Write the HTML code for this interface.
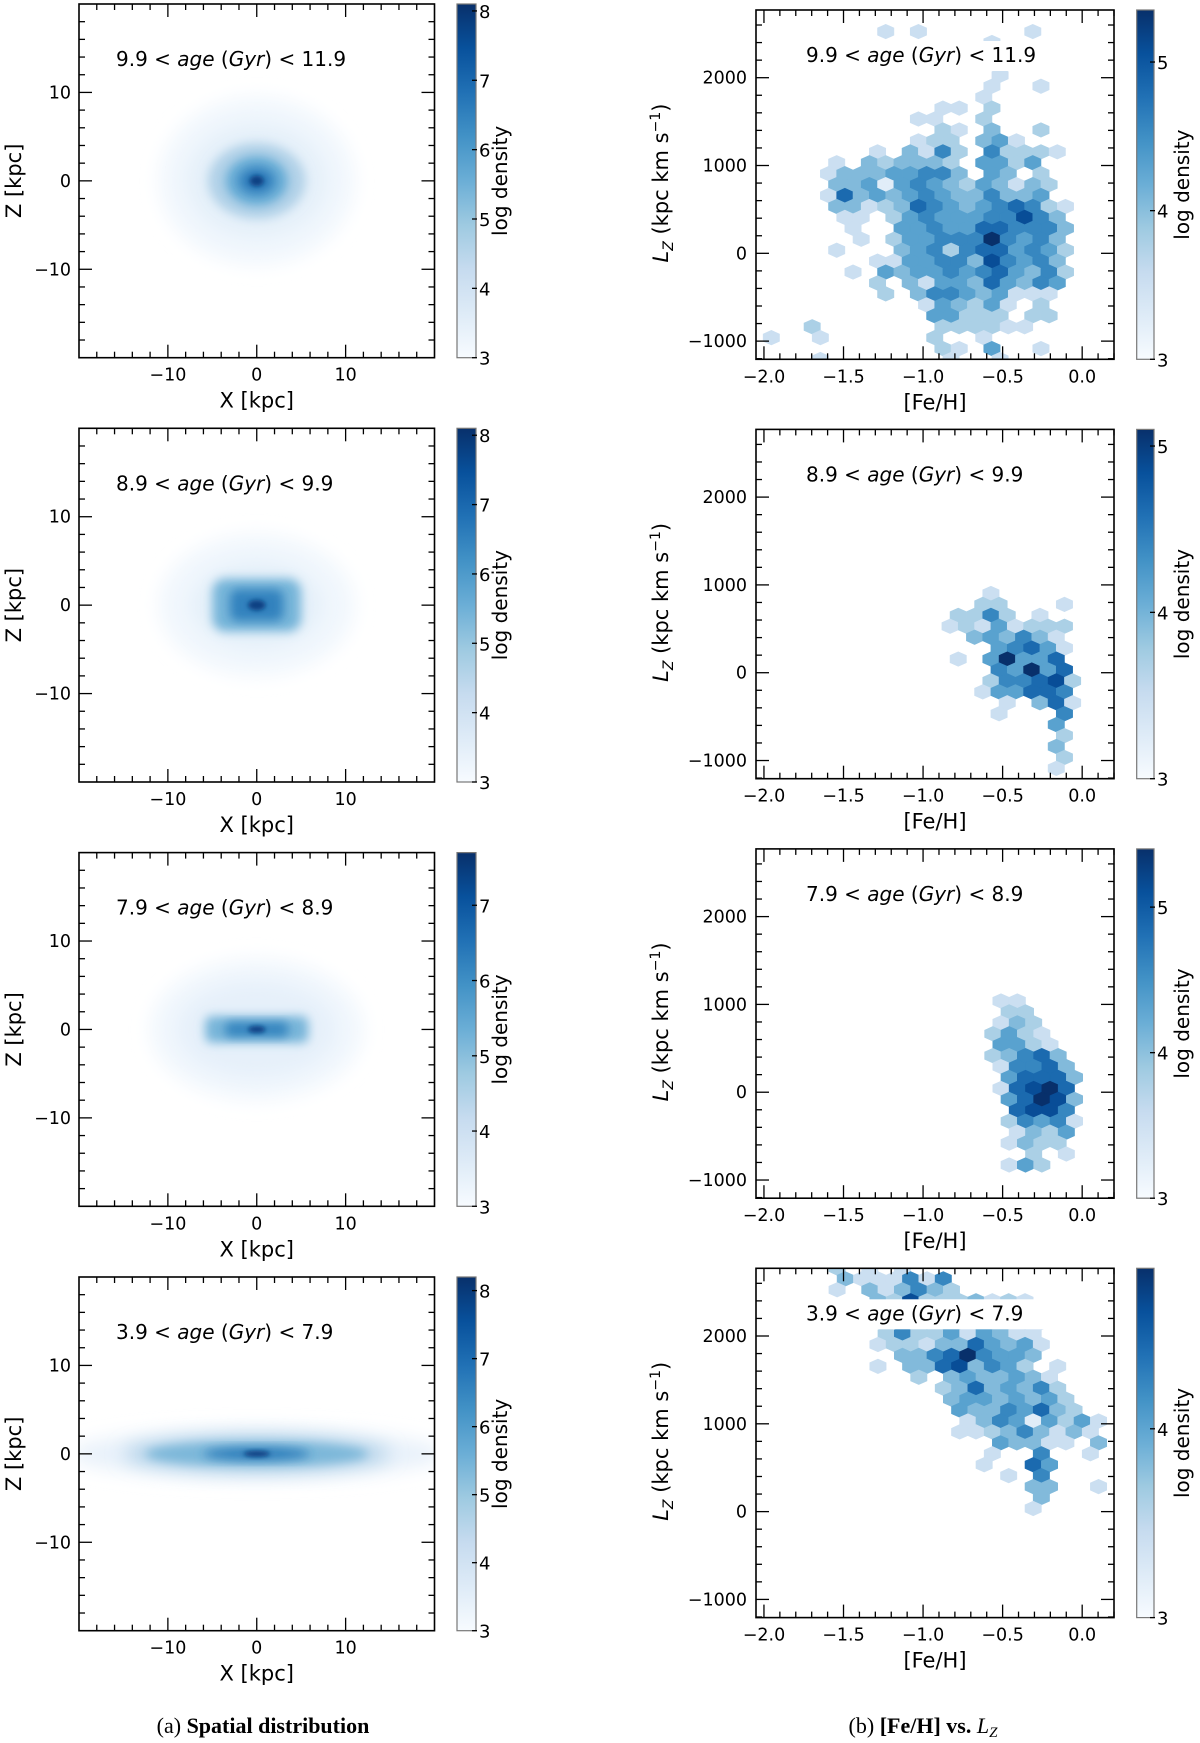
<!DOCTYPE html>
<html><head><meta charset="utf-8"><title>Spatial distribution and [Fe/H] vs Lz by age</title>
<style>
html,body{margin:0;padding:0;background:#fff;}
svg{display:block;font-family:"DejaVu Sans","Liberation Sans",sans-serif;}
</style></head>
<body>
<svg id="fig" width="1200" height="1743" viewBox="0 0 1200 1743" xmlns="http://www.w3.org/2000/svg">
<defs>
  <linearGradient id="cbgrad" x1="0" y1="1" x2="0" y2="0">
    <stop offset="0" stop-color="#f7fbff"/><stop offset="0.125" stop-color="#deebf7"/>
    <stop offset="0.25" stop-color="#c6dbef"/><stop offset="0.375" stop-color="#9ecae1"/>
    <stop offset="0.5" stop-color="#6baed6"/><stop offset="0.625" stop-color="#4292c6"/>
    <stop offset="0.75" stop-color="#2171b5"/><stop offset="0.875" stop-color="#08519c"/>
    <stop offset="1" stop-color="#08306b"/>
  </linearGradient>
  <filter id="blurBig" x="-50%" y="-50%" width="200%" height="200%"><feGaussianBlur stdDeviation="9"/></filter>
  <filter id="blurMid" x="-50%" y="-50%" width="200%" height="200%"><feGaussianBlur stdDeviation="5"/></filter>
  <filter id="blurSmall" x="-50%" y="-50%" width="200%" height="200%"><feGaussianBlur stdDeviation="2.5"/></filter>
</defs>
<text x="263" y="1733" text-anchor="middle" font-family="Liberation Serif, serif" font-size="22">(a) <tspan font-weight="bold">Spatial distribution</tspan></text>
<text x="923" y="1733" text-anchor="middle" font-family="Liberation Serif, serif" font-size="22">(b) <tspan font-weight="bold">[Fe/H] vs.</tspan> <tspan font-style="italic">L</tspan><tspan font-style="italic" font-size="15" dy="4">Z</tspan></text>
</svg>
<script>
// ---------- data ----------
const ageLabels = [["9.9","11.9"],["8.9","9.9"],["7.9","8.9"],["3.9","7.9"]];
const leftVmax = [8.1, 8.1, 7.7, 8.2];
const rightVmax = [5.35, 5.1, 5.4, 4.85];
const leftCbTicks = [[3,4,5,6,7,8],[3,4,5,6,7,8],[3,4,5,6,7],[3,4,5,6,7,8]];
const rightCbTicks = [[3,4,5],[3,4,5],[3,4,5],[3,4]];
const xTicksKpc = [-10,0,10];
const zTicksKpc = [-10,0,10];
const fehTicks = [-2.0,-1.5,-1.0,-0.5,0.0];
const fehTickLabels = ["\u22122.0","\u22121.5","\u22121.0","\u22120.5","0.0"];
const lzTicks = [-1000,0,1000,2000];
const lzTickLabels = ["\u22121000","0","1000","2000"];

// spatial density components per panel (kpc half-widths, log density level, shape)
const compRx = [[11,8,5.5,3.5,2,0.8],[11,7.5,5,3,1],[12,9,5.8,3.5,1],[21,15,12.5,6,1.5]];
const compRz = [[9.5,6.5,4.3,2.8,1.5,0.6],[8,5,3,1.8,0.6],[8,5.5,1.5,0.8,0.4],[2.8,2.1,1.4,0.7,0.35]];
const compLevel = [[3.15,3.45,4.6,5.6,6.6,7.8],[3.15,3.45,5.4,6.5,7.8],[3.15,3.4,5.2,6.2,7.4],[3.4,4.6,5.4,6.7,7.9]];
const compShape = [["e","e","e","e","e","e"],["e","e","r","r","e"],["e","e","r","r","e"],["e","e","e","e","e"]];

// hexbin [Fe/H] vs Lz: grid steps and per-panel origins; digits = density level 1..9
const DFEH = 0.1027, DLZ = 124.5;
const hexFeh0 = [-2.005, -0.933, -0.613, -1.643];
const hexLz0 = [160, 31, 43, 1779];
const hexRowTop = [21, 7, 8, 8];
const hexRows1 = [
"......................","......................",
".......2.2......2.....","..............2.......",
"......................","......................",
"..............2.......","..............2..2....",
".............2........","...........22.3.......",
".........22..3........","...........32.4..3....",
".........233.452......",".......2.4263.63332...",
"....2.434443.5535.....","....244455664.54.3....",
"....44515654354243....","....27454565446445....",
"....442347654567632...",".....22.35655566864...",
".....2..55655776664...","......2.35566696564...",
"....2...45636775653...",".......225566486564...",
".....2.545565675463...",".......3.4255475465...",
".......3.466545222....","..........254352.3....",
"..........55333.33....","...3.......333322.....",
"2..2......3..2........","...........32.5..2....",
"...2.......2..2......."];
const hexRows2 = [
"...2......","...33...2.",".3363.2...",".23252333.",
"..454642..","....56752.",".2.59557..","....65957.",
"...366783.","...255776.","....2.472.","....2...6.",
".......5..","........3.",".......4..","........3.",".......2.."];
const hexRows3 = [
".22....",".33....",".243...","3532...",".5532..","34674..",
".26674.",".57774.",".27897.",".57984.","..7886.",".36562.",
"..2435.",".2433..","...3.2.",".253..."];
const hexRows4 = [
".3.2.2............",".4222626..........",".2.424643.........",
"...4383334232.....",".....45454333.....",".....345454332....",
"....3633525422....","...23324475452....",".....446796554....",
"...2.44784653.2...","......3.4544542...",".......34745463...",
"........45545453..","........54465743..",".........246515352",
"........223464242.","...........54422.4","..........2..6..2.",
"..........2..75...","...........2.6....",".............44..2",
".............4....",".............2...."];
const hexRowsAll = [hexRows1, hexRows2, hexRows3, hexRows4];

// ---------- layout ----------
const L = {x0:79, x1:434.5, h:353.7, tops:[4,428.3,852.6,1277.0], xmin:-20, xmax:20, zmin:-20, zmax:20, cbx0:457, cbx1:476};
const R = {x0:756, x1:1114, h:349.3, tops:[10,429.4,848.9,1268.3], fmin:-2.05, fmax:0.2, lmin:-1207, lmax:2771, cbx0:1136.7, cbx1:1154};

const NS = "http://www.w3.org/2000/svg";
const svg = document.getElementById("fig");
function mk(tag, attrs, parent){
  const e = document.createElementNS(NS, tag);
  for (const k in attrs) e.setAttribute(k, attrs[k]);
  (parent||svg).appendChild(e);
  return e;
}
const stops = [[0,[247,251,255]],[0.125,[222,235,247]],[0.25,[198,219,239]],[0.375,[158,202,225]],[0.5,[107,174,214]],[0.625,[66,146,198]],[0.75,[33,113,181]],[0.875,[8,81,156]],[1,[8,48,107]]];
function blues(t){
  t = Math.max(0, Math.min(1, t));
  for (let i=1;i<stops.length;i++){
    if (t <= stops[i][0]){
      const a = stops[i-1], b = stops[i];
      const f = (t-a[0])/(b[0]-a[0]);
      const c = a[1].map((v,j)=>Math.round(v+(b[1][j]-v)*f));
      return "rgb("+c.join(",")+")";
    }
  }
  return "rgb(8,48,107)";
}

function ageText(g, x, y, pair){
  const t = mk("text", {x:x, y:y, "font-size":"20"}, g);
  
  
  t.innerHTML = pair[0] + " &lt; <tspan font-style='italic'>age</tspan> (<tspan font-style='italic'>Gyr</tspan>) &lt; " + pair[1];
  return t;
}

function colorbar(x0, x1, top, h, vmax, ticks, idx, side){
  const g = mk("g", {});
  
  
  const r = mk("rect", {x:x0, y:top, width:x1-x0, height:h, fill:"url(#cbgrad)", stroke:"#777", "stroke-width":"1.2"}, g);
  
  
  const cy = v => top + h - (v-3)/(vmax-3)*h;
  ticks.forEach(v=>{
    const y = cy(v);
    const tk = mk("line", {x1:x1-4, x2:x1+1, y1:y, y2:y, stroke:"#000", "stroke-width":"1.3"}, g);
    
    
    const tl = mk("text", {x:x1+3, y:y+7, "font-size":"18"}, g);
    
    
    tl.textContent = String(v);
  });
  const lx = side === "left" ? 507 : 1189;
  const lb = mk("text", {x:lx, y:top+h/2, "font-size":"20", "text-anchor":"middle", transform:"rotate(-90 "+lx+" "+(top+h/2)+")"}, g);
  
  
  lb.textContent = "log density";
}

function frame(g, x0, x1, top, h){
  const f = mk("rect", {x:x0, y:top, width:x1-x0, height:h, fill:"none", stroke:"#000", "stroke-width":"1.6"}, g);
  
  
}
function tickPair(g, x0, x1, top, h, pos, isX, len){
  if (isX){
    const a = mk("line", {x1:pos, x2:pos, y1:top+h, y2:top+h-len, stroke:"#000", "stroke-width":"1.3"}, g);
    
    
    const b = mk("line", {x1:pos, x2:pos, y1:top, y2:top+len, stroke:"#000", "stroke-width":"1.3"}, g);
    
    
  } else {
    const a = mk("line", {x1:x0, x2:x0+len, y1:pos, y2:pos, stroke:"#000", "stroke-width":"1.3"}, g);
    
    
    const b = mk("line", {x1:x1, x2:x1-len, y1:pos, y2:pos, stroke:"#000", "stroke-width":"1.3"}, g);
    
    
  }
}

// ---------- left panels: spatial distribution ----------
for (let i=0;i<4;i++){
  const top = L.tops[i];
  const xs = v => L.x0 + (v-L.xmin)/(L.xmax-L.xmin)*(L.x1-L.x0);
  const zs = v => top + (L.zmax-v)/(L.zmax-L.zmin)*L.h;
  const kx = (L.x1-L.x0)/(L.xmax-L.xmin), kz = L.h/(L.zmax-L.zmin);
  const g = mk("g", {});
  
  
  const cp = mk("clipPath", {id:"clipL"+i}, g);
  mk("rect", {x:L.x0, y:top, width:L.x1-L.x0, height:L.h}, cp);
  const dg = mk("g", {"clip-path":"url(#clipL"+i+")"}, g);
  
  
  const n = compRx[i].length;
  for (let c=0;c<n;c++){
    const col = blues((compLevel[i][c]-3)/(leftVmax[i]-3));
    const rx = compRx[i][c]*kx, rz = compRz[i][c]*kz;
    const filt = c<=1 ? "url(#blurBig)" : (c===n-1 ? "url(#blurSmall)" : "url(#blurMid)");
    let el;
    if (compShape[i][c]==="r"){
      el = mk("rect", {x:xs(0)-rx, y:zs(0)-rz, width:2*rx, height:2*rz, rx:Math.min(rx,rz)*0.5, fill:col, filter:filt}, dg);
    } else {
      el = mk("ellipse", {cx:xs(0), cy:zs(0), rx:rx, ry:rz, fill:col, filter:filt}, dg);
    }
    
    
  }
  frame(g, L.x0, L.x1, top, L.h);
  for (let v=-18; v<=18; v+=2){
    const major = xTicksKpc.indexOf(v) >= 0;
    tickPair(g, L.x0, L.x1, top, L.h, xs(v), true, major?13:6);
    tickPair(g, L.x0, L.x1, top, L.h, zs(v), false, major?13:6);
  }
  xTicksKpc.forEach(v=>{
    const t = mk("text", {x:xs(v), y:top+L.h+23, "font-size":"17.5", "text-anchor":"middle"}, g);
    
    
    t.textContent = v<0 ? "\u2212"+Math.abs(v) : String(v);
  });
  zTicksKpc.forEach(v=>{
    const t = mk("text", {x:71, y:zs(v)+6, "font-size":"17.5", "text-anchor":"end"}, g);
    
    
    t.textContent = v<0 ? "\u2212"+Math.abs(v) : String(v);
  });
  const xl = mk("text", {x:(L.x0+L.x1)/2, y:top+L.h+50, "font-size":"21", "text-anchor":"middle"}, g);
  
  
  xl.textContent = "X [kpc]";
  const yc = top+L.h/2;
  const yl = mk("text", {x:21, y:yc, "font-size":"21", "text-anchor":"middle", transform:"rotate(-90 21 "+yc+")"}, g);
  
  
  yl.textContent = "Z [kpc]";
  ageText(g, 116, top+62, ageLabels[i]);
  colorbar(L.cbx0, L.cbx1, top, L.h, leftVmax[i], leftCbTicks[i], i, "left");
}

// ---------- right panels: [Fe/H] vs Lz hexbin ----------
for (let i=0;i<4;i++){
  const top = R.tops[i];
  const xs = v => R.x0 + (v-R.fmin)/(R.fmax-R.fmin)*(R.x1-R.x0);
  const ys = v => top + (R.lmax-v)/(R.lmax-R.lmin)*R.h;
  const g = mk("g", {});
  
  
  const cp = mk("clipPath", {id:"clipR"+i}, g);
  mk("rect", {x:R.x0, y:top, width:R.x1-R.x0, height:R.h}, cp);
  const hg = mk("g", {"clip-path":"url(#clipR"+i+")"}, g);
  
  
  const w = (xs(DFEH)-xs(0))/2;
  const sy = ys(0)-ys(2*DLZ);
  const d1 = sy/6, d2 = sy/3;
  const rows = hexRowsAll[i];
  rows.forEach((row, k)=>{
    const r = hexRowTop[i] - k;
    const par = Math.abs(r)%2;
    for (let p=0;p<row.length;p++){
      const ch = row[p];
      if (ch === ".") continue;
      const level = +ch;
      const feh = hexFeh0[i] + (p + par*0.5)*DFEH;
      const lz = hexLz0[i] + r*DLZ;
      const val = 3 + level/9*(rightVmax[i]-3);
      const col = blues((val-3)/(rightVmax[i]-3));
      const px = xs(feh), py = ys(lz);
      const pts = [[px+w,py+d1],[px+w,py-d1],[px,py-d2],[px-w,py-d1],[px-w,py+d1],[px,py+d2]].map(q=>q[0].toFixed(2)+","+q[1].toFixed(2)).join(" ");
      const hx = mk("polygon", {points:pts, fill:col, stroke:col, "stroke-width":"0.6"}, hg);
      
      
    }
  });
  const bx = mk("rect", {x:800, y:top+31, width:256, height:30, fill:"#fff"}, g);
  
  
  ageText(g, 806, top+52, ageLabels[i]);
  frame(g, R.x0, R.x1, top, R.h);
  for (let m=-20; m<=2; m++){
    const v = m/10;
    if (v < R.fmin || v > R.fmax) continue;
    const major = (m % 5 === 0);
    tickPair(g, R.x0, R.x1, top, R.h, xs(v), true, major?13:6);
  }
  for (let v=-1200; v<=2600; v+=200){
    const major = (v % 1000 === 0);
    tickPair(g, R.x0, R.x1, top, R.h, ys(v), false, major?13:6);
  }
  fehTicks.forEach((v,j)=>{
    const t = mk("text", {x:xs(v), y:top+R.h+23, "font-size":"17.5", "text-anchor":"middle"}, g);
    
    
    t.textContent = fehTickLabels[j];
  });
  lzTicks.forEach((v,j)=>{
    const t = mk("text", {x:747, y:ys(v)+6, "font-size":"17.5", "text-anchor":"end"}, g);
    
    
    t.textContent = lzTickLabels[j];
  });
  const xl = mk("text", {x:(R.x0+R.x1)/2, y:top+R.h+50, "font-size":"21", "text-anchor":"middle"}, g);
  
  
  xl.textContent = "[Fe/H]";
  const yc = top+173;
  const yl = mk("text", {x:668, y:yc, "font-size":"21", "text-anchor":"middle", transform:"rotate(-90 668 "+yc+")"}, g);
  
  
  yl.innerHTML = "<tspan font-style='italic'>L</tspan><tspan font-style='italic' font-size='14' dy='5'>Z</tspan><tspan dy='-5'> (kpc km s</tspan><tspan font-size='14' dy='-8'>\u22121</tspan><tspan dy='8'>)</tspan>";
  colorbar(R.cbx0, R.cbx1, top, R.h, rightVmax[i], rightCbTicks[i], i, "right");
}
</script>
</body></html>
